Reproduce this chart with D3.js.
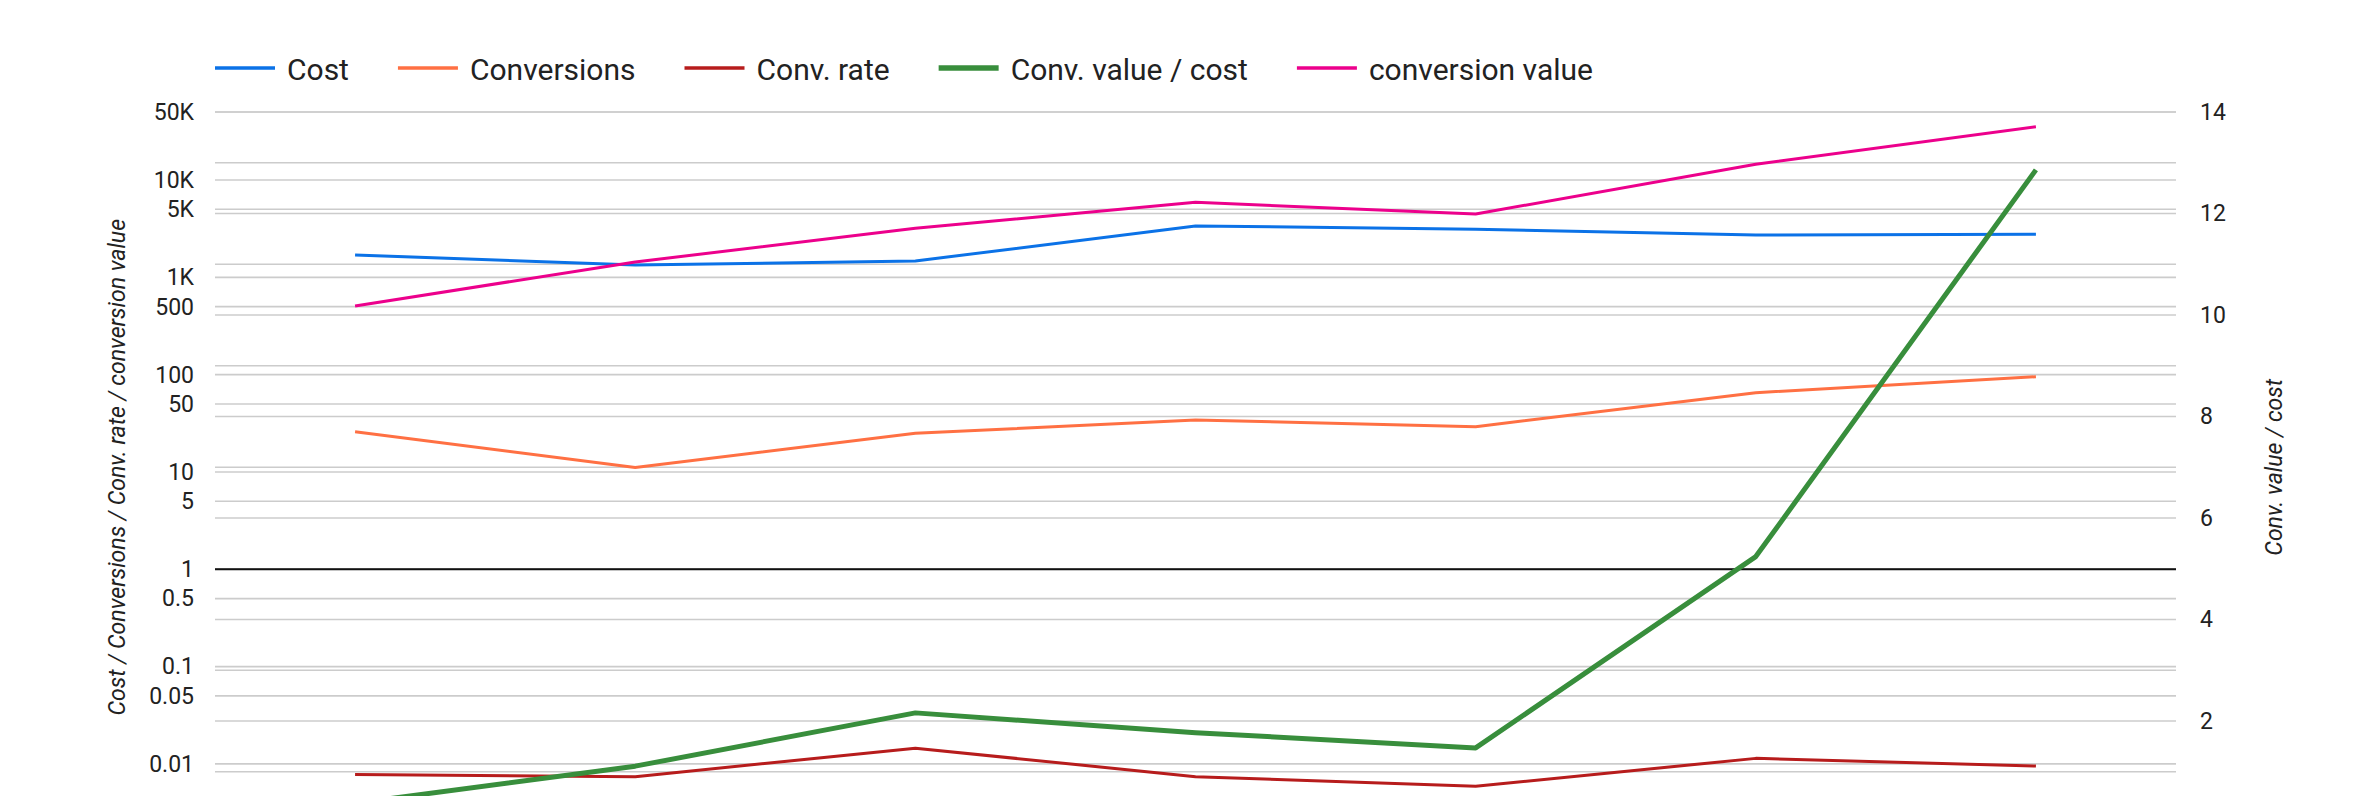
<!DOCTYPE html>
<html>
<head>
<meta charset="utf-8">
<script src="https://cdn.jsdelivr.net/npm/d3@7"></script>
<style>
  body { margin: 0; background: #fff; overflow: hidden; }
  text { font-family: Roboto, "Noto Sans", sans-serif; fill: #222; }
</style>
</head>
<body>
<script>
// data (x labels are cut off in the reference)
var categories = ["1", "2", "3", "4", "5", "6", "7"];
var cost = [1698, 1340, 1472, 3373, 3118, 2723, 2767];
var conversions = [25.9, 11.1, 25.0, 34.2, 29.2, 65.3, 95.3];
var convRate = [0.0078, 0.0074, 0.0145, 0.0074, 0.0059, 0.0114, 0.0095];
var convValueCost = [0.38, 1.11, 2.16, 1.77, 1.47, 5.24, 12.86];
var conversionValue = [508, 1438, 3192, 5902, 4477, 14520, 35300];

var leftTicks = [50000, 10000, 5000, 1000, 500, 100, 50, 10, 5, 1, 0.5, 0.1, 0.05, 0.01];
var leftTickLabels = ["50K", "10K", "5K", "1K", "500", "100", "50", "10", "5", "1", "0.5", "0.1", "0.05", "0.01"];
var rightGrid = [1, 2, 3, 4, 5, 6, 7, 8, 9, 10, 11, 12, 13, 14];
var rightTicks = [2, 4, 6, 8, 10, 12, 14];

var seriesNames = ["Cost", "Conversions", "Conv. rate", "Conv. value / cost", "conversion value"];
var seriesColors = ["#0b72e7", "#ff7043", "#b71c1c", "#388e3c", "#ec008c"];
var seriesWidths = [3, 3, 3, 5, 3];
var seriesAxis = ["left", "left", "left", "right", "left"];
var seriesValues = [cost, conversions, convRate, convValueCost, conversionValue];

var svgWidth = 2364;
var svgHeight = 796;
var plot = {left: 215, right: 2176, top: 112, bottom: 822.5};

var svg = d3.select("body")
  .append("svg")
  .attr("width", svgWidth)
  .attr("height", svgHeight);

var x = d3.scalePoint()
  .domain(categories)
  .range([plot.left, plot.right])
  .padding(0.5);

var yLeft = d3.scaleLog()
  .domain([0.0025, 50000])
  .range([plot.bottom, plot.top]);

var yRight = d3.scaleLinear()
  .domain([0, 14])
  .range([plot.bottom, plot.top]);

// gridlines
var grid = svg.append("g");
grid.selectAll(".gl")
  .data(leftTicks)
  .enter()
  .append("line")
  .attr("x1", plot.left)
  .attr("x2", plot.right)
  .attr("y1", d => yLeft(d))
  .attr("y2", d => yLeft(d))
  .attr("stroke", "#cccccc")
  .attr("stroke-width", 1.6);

grid.selectAll(".gr")
  .data(rightGrid)
  .enter()
  .append("line")
  .attr("x1", plot.left)
  .attr("x2", plot.right)
  .attr("y1", d => yRight(d))
  .attr("y2", d => yRight(d))
  .attr("stroke", "#cccccc")
  .attr("stroke-width", 1.6);

// baseline at 1 on the log axis
svg.append("line")
  .attr("x1", plot.left)
  .attr("x2", plot.right)
  .attr("y1", yLeft(1))
  .attr("y2", yLeft(1))
  .attr("stroke", "#111")
  .attr("stroke-width", 2);

// left axis labels
var yAxisL = d3.axisLeft(yLeft)
  .tickValues(leftTicks)
  .tickFormat((d, i) => leftTickLabels[i])
  .tickSize(0)
  .tickPadding(21);
var gL = svg.append("g")
  .attr("transform", `translate(${plot.left},0)`)
  .call(yAxisL);
gL.select(".domain").remove();
gL.selectAll("text")
  .attr("font-size", 23)
  .attr("font-family", "Roboto, sans-serif")
  .attr("fill", "#222");

// right axis labels
var yAxisR = d3.axisRight(yRight)
  .tickValues(rightTicks)
  .tickSize(0)
  .tickPadding(24);
var gR = svg.append("g")
  .attr("transform", `translate(${plot.right},0)`)
  .call(yAxisR);
gR.select(".domain").remove();
gR.selectAll("text")
  .attr("font-size", 23)
  .attr("font-family", "Roboto, sans-serif")
  .attr("fill", "#222");

// axis titles
var midY = (plot.top + plot.bottom) / 2;
svg.append("text")
  .attr("transform", `translate(117,${midY}) rotate(-90)`)
  .attr("text-anchor", "middle")
  .attr("dominant-baseline", "central")
  .attr("font-size", 23)
  .attr("font-style", "italic")
  .text("Cost / Conversions / Conv. rate / conversion value");

svg.append("text")
  .attr("transform", `translate(2274,${midY}) rotate(-90)`)
  .attr("text-anchor", "middle")
  .attr("dominant-baseline", "central")
  .attr("font-size", 23)
  .attr("font-style", "italic")
  .text("Conv. value / cost");

// lines
seriesValues.forEach(function(vals, i) {
  var yScale = seriesAxis[i] == "right" ? yRight : yLeft;
  var line = d3.line()
    .x((d, j) => x(categories[j]))
    .y(d => yScale(d));
  svg.append("path")
    .datum(vals)
    .attr("d", line)
    .attr("fill", "none")
    .attr("stroke", seriesColors[i])
    .attr("stroke-width", seriesWidths[i])
    .attr("stroke-linejoin", "round");
});

// legend
var legend = svg.append("g");
var lx = 215;
var ly = 68;
seriesNames.forEach(function(name, i) {
  legend.append("line")
    .attr("x1", lx)
    .attr("x2", lx + 60)
    .attr("y1", ly)
    .attr("y2", ly)
    .attr("stroke", seriesColors[i])
    .attr("stroke-width", seriesWidths[i] + 0.5);
  var t = legend.append("text")
    .attr("x", lx + 72)
    .attr("y", ly + 1)
    .attr("dominant-baseline", "central")
    .attr("font-size", 30)
    .text(name);
  lx = lx + 72 + t.node().getComputedTextLength() + 49;
});
</script>
</body>
</html>
